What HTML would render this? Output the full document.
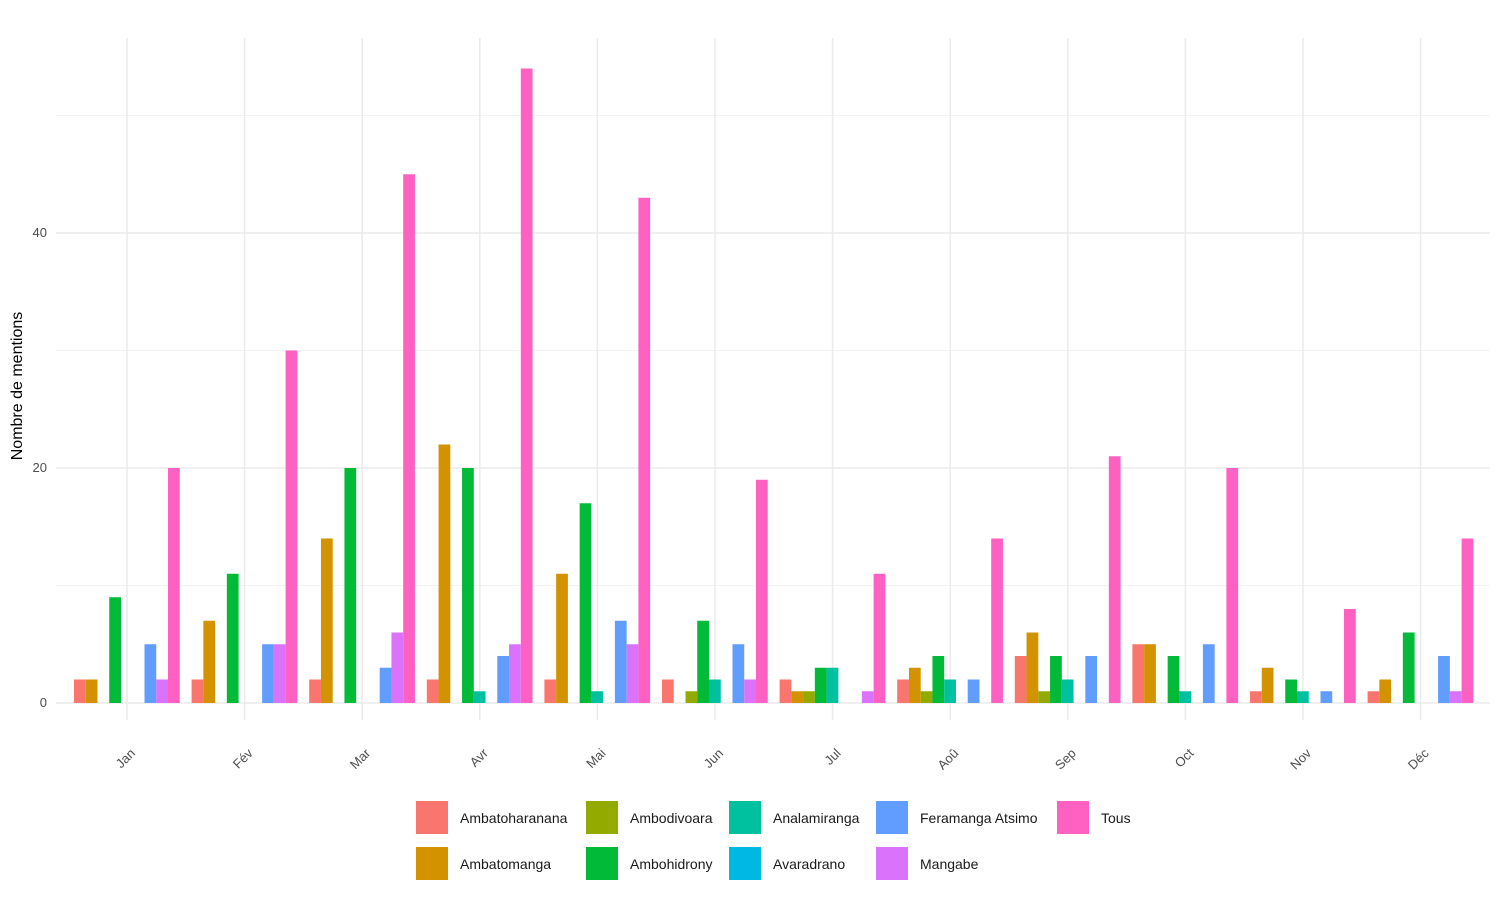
<!DOCTYPE html>
<html><head><meta charset="utf-8"><style>body{margin:0;background:#fff}svg{display:block}text{font-family:"Liberation Sans",Arial,sans-serif}</style></head><body>
<svg width="1500" height="900" xmlns="http://www.w3.org/2000/svg">
<g stroke="#f3f3f3" stroke-width="1">
<line x1="56" x2="1490" y1="115.5" y2="115.5"/><line x1="56" x2="1490" y1="350.5" y2="350.5"/><line x1="56" x2="1490" y1="585.5" y2="585.5"/>
</g>
<g stroke="#ebebeb" stroke-width="1.5" id="grid"></g>
<g id="bars"></g>
<g font-size="13" fill="#4d4d4d" text-anchor="end">
<text x="47" y="707">0</text><text x="47" y="472">20</text><text x="47" y="237">40</text>
</g>
<g font-size="13" fill="#4d4d4d" id="xl"></g>
<text transform="translate(22,386) rotate(-90)" font-size="16" text-anchor="middle" fill="#000">Nombre de mentions</text>
<g id="leg" font-size="14" fill="#1a1a1a"></g>
<script>
var cols=["#F8766D","#D39200","#93AA00","#00BA38","#00C19F","#00B9E3","#619CFF","#DB72FB","#FF61C3"];
var names=["Ambatoharanana","Ambatomanga","Ambodivoara","Ambohidrony","Analamiranga","Avaradrano","Feramanga Atsimo","Mangabe","Tous"];
var m=["Jan","Fév","Mar","Avr","Mai","Jun","Jul","Aoû","Sep","Oct","Nov","Déc"];
var d=[[2,2,0,9,0,0,5,2,20],[2,7,0,11,0,0,5,5,30],[2,14,0,20,0,0,3,6,45],[2,22,0,20,1,0,4,5,54],[2,11,0,17,1,0,7,5,43],[2,0,1,7,2,0,5,2,19],[2,1,1,3,3,0,0,1,11],[2,3,1,4,2,0,2,0,14],[4,6,1,4,2,0,4,0,21],[5,5,0,4,1,0,5,0,20],[1,3,0,2,1,0,1,0,8],[1,2,0,6,0,0,4,1,14]];
var ns="http://www.w3.org/2000/svg",g=document.getElementById("grid"),b=document.getElementById("bars"),xl=document.getElementById("xl"),lg=document.getElementById("leg");
function el(p,t,a,tx){var e=document.createElementNS(ns,t);for(var k in a)e.setAttribute(k,a[k]);if(tx)e.textContent=tx;p.appendChild(e);return e;}
[233,468,703].forEach(function(y){el(g,"line",{x1:56,x2:1490,y1:y,y2:y});});
for(var i=0;i<12;i++){var c=127+i*117.6;el(g,"line",{x1:c,x2:c,y1:38,y2:720});
el(xl,"text",{transform:"translate("+(c+9)+",754) rotate(-45)","text-anchor":"end"},m[i]);
for(var j=0;j<9;j++){var v=d[i][j];if(!v)continue;var x=c-53+j*11.75;el(b,"rect",{x:x,y:703-v*11.75,width:11.75,height:v*11.75,fill:cols[j]});}}
var pos=[[416,801],[416,847],[586,801],[586,847],[729,801],[729,847],[876,801],[876,847],[1057,801]];
for(var j=0;j<9;j++){el(lg,"rect",{x:pos[j][0],y:pos[j][1],width:32,height:33,fill:cols[j]});el(lg,"text",{x:pos[j][0]+44,y:pos[j][1]+22},names[j]);}
</script>
</svg>
</body></html>
